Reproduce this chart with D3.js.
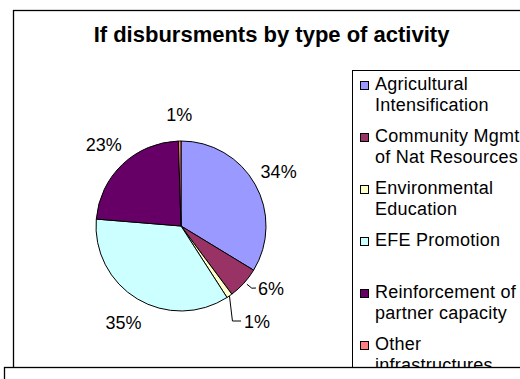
<!DOCTYPE html>
<html>
<head>
<meta charset="utf-8">
<script src="https://cdn.jsdelivr.net/npm/d3@7"></script>
<style>
  html, body { margin: 0; padding: 0; background: #fff; }
  svg { display: block; font-family: "Liberation Sans", Arial, sans-serif; }
</style>
</head>
<body>
<svg id="chart" width="520" height="379"></svg>
<script>
// Share of disbursements per activity type (percent)
const categories = [
  ["Agricultural", "Intensification"],
  ["Community Mgmt", "of Nat Resources"],
  ["Environmental", "Education"],
  ["EFE Promotion", ""],
  ["Reinforcement of", "partner capacity"],
  ["Other", "infrastructures"]
];
const shares = [33.7, 6.1, 1.1, 35.4, 23.2, 0.5];
const colors = ["#9999FF", "#993366", "#FFFFCC", "#CCFFFF", "#660066", "#FF8080"];
const title = "If disbursments by type of activity";

const svg = d3.select("#chart");
const W = 520, H = 379;

// chart frame
svg.append("rect")
  .attr("x", 13.5).attr("y", 10.5)
  .attr("width", W + 20).attr("height", H + 20)
  .attr("fill", "#fff").attr("stroke", "#000").attr("stroke-width", 1.3);

svg.append("text")
  .attr("x", 271.5).attr("y", 42)
  .attr("text-anchor", "middle")
  .attr("font-size", 22).attr("font-weight", "bold")
  .text(title);

// pie
const cx = 181, cy = 226, r = 85;
const pie = d3.pie().sort(null).value(d => d);
const arcs = pie(shares);
const arc = d3.arc().innerRadius(0).outerRadius(r);
const g = svg.append("g").attr("transform", `translate(${cx},${cy})`);

g.selectAll("path").data(arcs).join("path")
  .attr("d", arc)
  .attr("fill", (d, i) => colors[i])
  .attr("stroke", "#000").attr("stroke-width", 1);

const pct = d => Math.round(d.value) + "%";
const mid = d => (d.startAngle + d.endAngle) / 2;
const polar = (a, rad) => [rad * Math.sin(a), -rad * Math.cos(a)];

// label placement: most labels sit just outside the rim; the two narrow
// lower-right slices are pushed aside and joined by leader lines
const labelPos = arcs.map((d, i) => {
  if (i === 1) return [90, 62];
  if (i === 2) return [76, 95];
  return polar(mid(d), r + 27);
});

g.selectAll("text.lbl").data(arcs).join("text")
  .attr("class", "lbl")
  .attr("x", (d, i) => labelPos[i][0])
  .attr("y", (d, i) => labelPos[i][1] + 6.5)
  .attr("text-anchor", "middle")
  .attr("font-size", 18)
  .text(pct);

// leader lines
const l1 = polar(mid(arcs[1]), r);
g.append("path")
  .attr("d", d3.line()([[l1[0] + 3, l1[1] + 1], [l1[0] + 8, l1[1] + 5], [labelPos[1][0] - 15, labelPos[1][1]]]))
  .attr("fill", "none").attr("stroke", "#000").attr("stroke-width", 1);
const l2 = polar(mid(arcs[2]), r);
g.append("path")
  .attr("d", d3.line()([[l2[0], l2[1]], [l2[0] + 3, labelPos[2][1]], [labelPos[2][0] - 16, labelPos[2][1]]]))
  .attr("fill", "none").attr("stroke", "#000").attr("stroke-width", 1);

// legend
const lg = svg.append("g");
lg.append("rect")
  .attr("x", 352.5).attr("y", 70.5)
  .attr("width", 200).attr("height", 320)
  .attr("fill", "#fff").attr("stroke", "#000").attr("stroke-width", 1);

const rowY = i => 90 + i * 52;
const items = lg.selectAll("g.item").data(categories).join("g").attr("class", "item");
items.append("rect")
  .attr("x", 360.5).attr("y", (d, i) => rowY(i) - 8.5)
  .attr("width", 8).attr("height", 8)
  .attr("fill", (d, i) => colors[i])
  .attr("stroke", "#000").attr("stroke-width", 1);
items.append("text")
  .attr("x", 375).attr("y", (d, i) => rowY(i))
  .attr("font-size", 18).attr("letter-spacing", 0.25)
  .text(d => d[0]);
items.append("text")
  .attr("x", 375).attr("y", (d, i) => rowY(i) + 21)
  .attr("font-size", 18).attr("letter-spacing", 0.25)
  .text(d => d[1]);

// overlapping panel along the bottom
svg.append("rect")
  .attr("x", 4.5).attr("y", 367.5)
  .attr("width", W + 20).attr("height", 40)
  .attr("fill", "#fff").attr("stroke", "#000").attr("stroke-width", 1.3);
</script>
</body>
</html>
